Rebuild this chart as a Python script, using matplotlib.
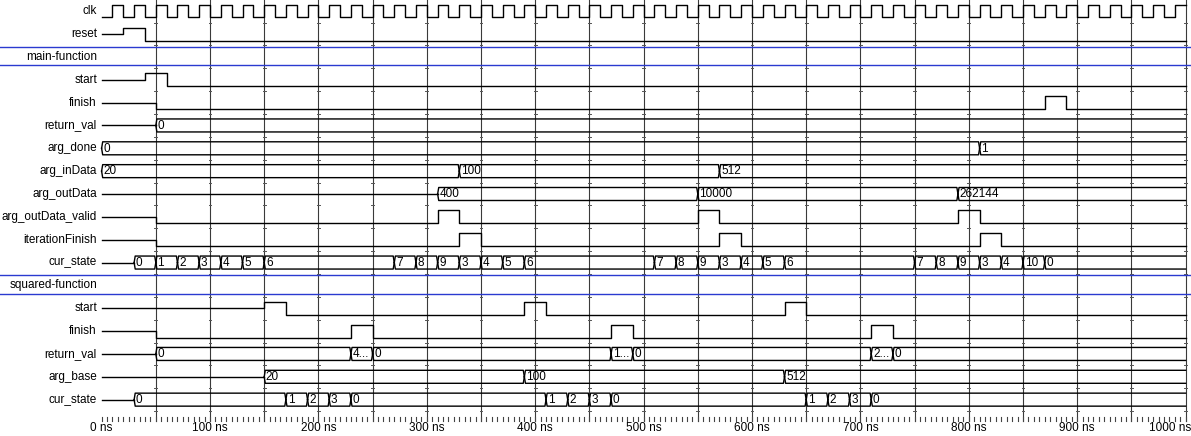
import numpy as np
import matplotlib
matplotlib.use("Agg")
import matplotlib.pyplot as plt

plt.rcParams['font.family'] = ['Liberation Sans', 'DejaVu Sans']

# waveform data, (time ns, value); None = undefined (drawn at mid level)
end_time = 1000
clk_period = 20
clk_first_rise = 10

reset = [(0, None), (20, 1), (40, 0)]

main_start = [(0, None), (40, 1), (60, 0)]
main_finish = [(0, None), (50, 0), (870, 1), (890, 0)]
main_return_val = [(0, None), (50, 0)]
arg_done = [(0, 0), (810, 1)]
arg_inData = [(0, 20), (330, 100), (570, 512)]
arg_outData = [(0, None), (310, 400), (550, 10000), (790, 262144)]
arg_outData_valid = [(0, None), (50, 0), (310, 1), (330, 0), (550, 1), (570, 0), (790, 1), (810, 0)]
iterationFinish = [(0, None), (50, 0), (330, 1), (350, 0), (570, 1), (590, 0), (810, 1), (830, 0)]
main_cur_state = [(0, None), (30, 0), (50, 1), (70, 2), (90, 3), (110, 4), (130, 5), (150, 6),
                  (270, 7), (290, 8), (310, 9), (330, 3), (350, 4), (370, 5), (390, 6),
                  (510, 7), (530, 8), (550, 9), (570, 3), (590, 4), (610, 5), (630, 6),
                  (750, 7), (770, 8), (790, 9), (810, 3), (830, 4), (850, 10), (870, 0)]

sq_start = [(0, None), (150, 1), (170, 0), (390, 1), (410, 0), (630, 1), (650, 0)]
sq_finish = [(0, None), (50, 0), (230, 1), (250, 0), (470, 1), (490, 0), (710, 1), (730, 0)]
sq_return_val = [(0, None), (50, 0), (230, 400), (250, 0), (470, 10000), (490, 0), (710, 262144), (730, 0)]
sq_arg_base = [(0, None), (150, 20), (390, 100), (630, 512)]
sq_cur_state = [(0, None), (30, 0), (170, 1), (190, 2), (210, 3), (230, 0),
                (410, 1), (430, 2), (450, 3), (470, 0), (650, 1), (670, 2), (690, 3), (710, 0)]

# rows: (label, kind, data)
rows = [
    ("clk", "clk", None),
    ("reset", "bit", reset),
    ("main-function", "header", None),
    ("start", "bit", main_start),
    ("finish", "bit", main_finish),
    ("return_val", "bus", main_return_val),
    ("arg_done", "bus", arg_done),
    ("arg_inData", "bus", arg_inData),
    ("arg_outData", "bus", arg_outData),
    ("arg_outData_valid", "bit", arg_outData_valid),
    ("iterationFinish", "bit", iterationFinish),
    ("cur_state", "bus", main_cur_state),
    ("squared-function", "header", None),
    ("start", "bit", sq_start),
    ("finish", "bit", sq_finish),
    ("return_val", "bus", sq_return_val),
    ("arg_base", "bus", sq_arg_base),
    ("cur_state", "bus", sq_cur_state),
]

W, H = 1191, 436
PX = 1.084          # pixels per ns
X0 = 101.6          # pixel of 0 ns
ROW0 = 11.2
ROWH = 22.85
AMP = 6.5
D = 1.0             # bus transition half width (ns)
FS = 8.5

fig = plt.figure(figsize=(W / 100, H / 100), dpi=100)
ax = fig.add_axes([0, 0, 1, 1])
xmin, xmax = -X0 / PX, (W - X0) / PX
ax.set_xlim(xmin, xmax)
ax.set_ylim(H, 0)
ax.axis('off')

lc = 'black'
lw = 1.0

# grid lines every 50 ns
for t in range(50, end_time + 1, 50):
    ax.plot([t, t], [0, 420.5], color='#3a3a3a', lw=0.8, zorder=1)
    for i in range(len(rows)):
        yb = ROW0 + ROWH * i + ROWH / 2
        ax.plot([t - 1.3, t + 1.3], [yb, yb], color='#555555', lw=0.7, zorder=1)

# minor ticks and labels
for t in range(0, end_time + 1, 5):
    ax.plot([t, t], [416.5, 420.5], color='#444444', lw=0.8)
for t in range(0, end_time + 1, 100):
    if t == end_time:
        ax.text(xmax, 427.5, f"{t} ns", ha='right', va='center', fontsize=FS)
    else:
        ax.text(t, 427.5, f"{t} ns", ha='center', va='center', fontsize=FS)


def segments(data):
    out = []
    for k, (t, v) in enumerate(data):
        t1 = data[k + 1][0] if k + 1 < len(data) else end_time
        out.append((t, t1, v))
    return out


for i, (name, kind, data) in enumerate(rows):
    c = ROW0 + ROWH * i
    ax.text(-4.3, c, name, ha='right', va='center', fontsize=FS)
    if kind == "header":
        for yy in (c - 10.0, c + 8.2):
            ax.plot([xmin, xmax], [yy, yy], color='#2a3ad0', lw=1.0, zorder=3)
    elif kind == "clk":
        xs, ys = [0], [c + 6]
        level = 0
        edges = np.arange(clk_first_rise, end_time, clk_period // 2)
        for e in edges:
            xs += [e, e]
            ys += [ys[-1], c - 6 if level == 0 else c + 6]
            level = 1 - level
        xs.append(end_time)
        ys.append(ys[-1])
        ax.plot(xs, ys, color=lc, lw=lw)
    elif kind == "bit":
        xs, ys = [], []
        for t0, t1, v in segments(data):
            y = c if v is None else (c - AMP if v else c + AMP)
            xs += [t0, t1]
            ys += [y, y]
        ax.plot(xs, ys, color=lc, lw=lw)
    else:
        for t0, t1, v in segments(data):
            if v is None:
                ax.plot([t0, t1], [c, c], color=lc, lw=lw)
                continue
            last = t1 >= end_time
            te = t1 if last else t1 - D
            for s in (-1, 1):
                xs = [t0, t0 + D, te]
                ys = [c, c + s * AMP, c + s * AMP]
                if not last:
                    xs.append(t1)
                    ys.append(c)
                ax.plot(xs, ys, color=lc, lw=lw)
            txt = str(v)
            maxc = int(((t1 - t0) * PX - 3) / 6.5)
            if len(txt) > maxc:
                txt = txt[0] + "..."
            ax.text(t0 + D + 0.6, c + 0.3, txt, ha='left', va='center', fontsize=FS)

fig.savefig("out.png", dpi=100)
